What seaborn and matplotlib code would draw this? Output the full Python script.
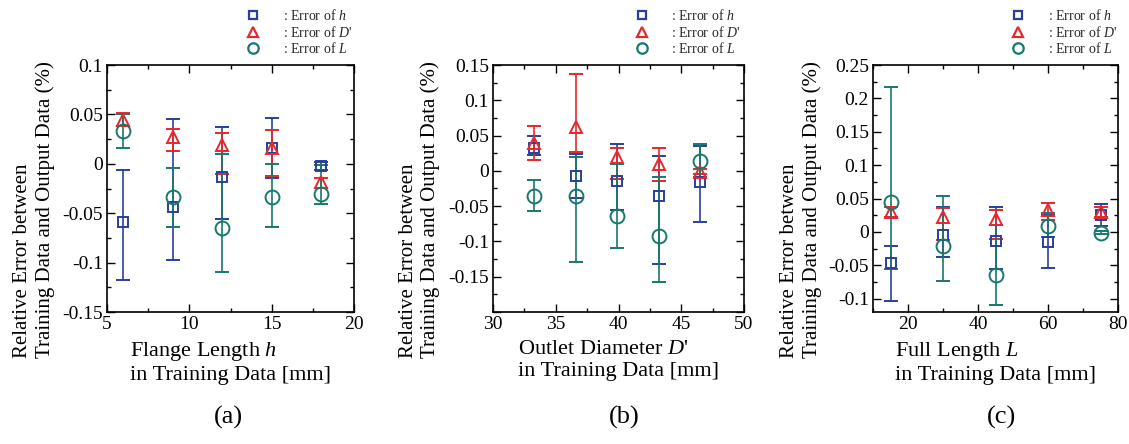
import matplotlib
matplotlib.use("Agg")
import matplotlib.pyplot as plt
import seaborn as sns
import numpy as np
from matplotlib.lines import Line2D
from matplotlib.ticker import MultipleLocator, FuncFormatter

# ---------------- data ----------------
# (a) Flange length h
xa = [6, 9, 12, 15, 18]
a_h = [-0.059, -0.044, -0.013, 0.016, -0.002]
a_h_lo = [-0.118, -0.097, -0.056, -0.014, -0.006]
a_h_hi = [-0.006, 0.045, 0.037, 0.046, 0.002]
a_D = [0.044, 0.027, 0.019, 0.016, -0.018]
a_D_lo = [0.038, 0.013, -0.010, -0.012, -0.024]
a_D_hi = [0.051, 0.035, 0.031, 0.034, -0.014]
a_L = [0.033, -0.034, -0.065, -0.034, -0.031]
a_L_lo = [0.016, -0.064, -0.110, -0.064, -0.041]
a_L_hi = [0.050, -0.004, 0.010, 0.000, -0.001]

# (b) Outlet diameter D'
xb = [33.3, 36.6, 39.9, 43.2, 46.5]
b_h = [0.033, -0.007, -0.014, -0.036, -0.016]
b_h_lo = [0.022, -0.038, -0.056, -0.132, -0.072]
b_h_hi = [0.050, 0.024, 0.038, 0.021, 0.035]
b_D = [0.040, 0.062, 0.020, 0.010, -0.001]
b_D_lo = [0.016, 0.027, -0.011, -0.015, -0.004]
b_D_hi = [0.063, 0.137, 0.032, 0.033, 0.003]
b_L = [-0.035, -0.036, -0.064, -0.093, 0.014]
b_L_lo = [-0.057, -0.129, -0.110, -0.157, -0.009]
b_L_hi = [-0.013, 0.020, 0.010, -0.009, 0.038]

# (c) Full length L
xc = [15, 30, 45, 60, 75]
c_h = [-0.046, -0.004, -0.014, -0.015, 0.025]
c_h_lo = [-0.104, -0.038, -0.055, -0.054, 0.009]
c_h_hi = [-0.021, 0.037, 0.037, 0.025, 0.042]
c_D = [0.030, 0.022, 0.020, 0.033, 0.030]
c_D_lo = [0.023, -0.012, -0.010, 0.018, 0.023]
c_D_hi = [0.037, 0.036, 0.033, 0.043, 0.038]
c_L = [0.045, -0.021, -0.065, 0.009, -0.001]
c_L_lo = [-0.055, -0.073, -0.110, -0.008, -0.003]
c_L_hi = [0.217, 0.054, 0.010, 0.028, 0.001]

series_labels = [": Error of $h$", ": Error of $D$'", ": Error of $L$"]
xlabels = ["Flange Length $h$\nin Training Data [mm]",
           "Outlet Diameter $D$'\nin Training Data [mm]",
           "Full Length $L$\nin Training Data [mm]"]
ylabel = "Relative Error between\nTraining Data and Output Data (%)"
captions = ["(a)", "(b)", "(c)"]

# ---------------- style ----------------
sns.set_theme(style="ticks")
plt.rcParams["font.family"] = ["Liberation Serif", "DejaVu Serif"]
plt.rcParams["mathtext.fontset"] = "custom"
plt.rcParams["mathtext.rm"] = "Liberation Serif"
plt.rcParams["mathtext.it"] = "Liberation Serif:italic"
plt.rcParams["axes.unicode_minus"] = False

C_H = "#2a3f9d"
C_D = "#e8262b"
C_L = "#17786c"

fig = plt.figure(figsize=(11.29, 4.44), dpi=100)

panels = [
    dict(x=xa, series=[(a_h, a_h_lo, a_h_hi), (a_D, a_D_lo, a_D_hi), (a_L, a_L_lo, a_L_hi)],
         rect=[107 / 1129, 1 - 312 / 444, 247 / 1129, 247 / 444],
         xlim=(5, 20), xmaj=5, xmin=2.5, ylim=(-0.15, 0.1), hide=[],
         cap_x=228),
    dict(x=xb, series=[(b_h, b_h_lo, b_h_hi), (b_D, b_D_lo, b_D_hi), (b_L, b_L_lo, b_L_hi)],
         rect=[493 / 1129, 1 - 312 / 444, 251 / 1129, 247 / 444],
         xlim=(30, 50), xmaj=5, xmin=2.5, ylim=(-0.2, 0.15), hide=[-0.2],
         cap_x=624),
    dict(x=xc, series=[(c_h, c_h_lo, c_h_hi), (c_D, c_D_lo, c_D_hi), (c_L, c_L_lo, c_L_hi)],
         rect=[873 / 1129, 1 - 312 / 444, 245 / 1129, 247 / 444],
         xlim=(10, 80), xmaj=20, xmin=10, ylim=(-0.12, 0.25), hide=[],
         cap_x=1002),
]

colors = [C_H, C_D, C_L]
markers = ["s", "^", "o"]
msizes = [7, 8.5, 10]
leg_sizes = [6, 7, 7.5]


def yfmt(hide):
    def f(v, pos):
        v = round(v, 4)
        for h in hide:
            if abs(v - h) < 1e-9:
                return ""
        if abs(v) < 1e-9:
            return "0"
        return ("%g" % v)
    return FuncFormatter(f)


for i, p in enumerate(panels):
    ax = fig.add_axes(p["rect"])
    for (vals, lo, hi), col, mk, ms in zip(p["series"], colors, markers, msizes):
        v = np.array(vals)
        yerr = np.vstack([v - np.array(lo), np.array(hi) - v])
        ax.errorbar(p["x"], v, yerr=yerr, fmt=mk, color=col, mfc="none",
                    mec=col, mew=1.4, ms=ms, elinewidth=1.2, capsize=5,
                    capthick=1.2, zorder=3)
    ax.set_xlim(*p["xlim"])
    ax.set_ylim(*p["ylim"])
    ax.xaxis.set_major_locator(MultipleLocator(p["xmaj"]))
    ax.xaxis.set_minor_locator(MultipleLocator(p["xmin"]))
    ax.yaxis.set_major_locator(MultipleLocator(0.05))
    ax.yaxis.set_minor_locator(MultipleLocator(0.025))
    ax.yaxis.set_major_formatter(yfmt(p["hide"]))
    ax.tick_params(which="both", direction="in", top=True, right=True,
                   colors="black", labelsize=14, width=1.0)
    ax.tick_params(which="major", length=6, pad=3)
    ax.tick_params(which="minor", length=3)
    for s in ax.spines.values():
        s.set_color("black")
        s.set_linewidth(1.2)
    ax.set_xlabel(xlabels[i], fontsize=16, multialignment="left", labelpad=5,
                  color="black")
    ax.set_ylabel(ylabel, fontsize=15, color="black", multialignment="left")
    ax.yaxis.set_label_coords(-0.21, 0.415)

    handles = [Line2D([], [], ls="none", marker=m, color=c, mfc="none", mec=c,
                      mew=1.6, ms=s) for m, c, s in zip(markers, colors, leg_sizes)]
    ax.legend(handles, series_labels, loc="lower left",
              bbox_to_anchor=(0.565, 1.035), frameon=False, fontsize=10,
              handlelength=1.0, handletextpad=1.6, labelspacing=0.12,
              borderpad=0.0, borderaxespad=0.0)

    fig.text(p["cap_x"] / 1129, 1 - 417 / 444, captions[i], ha="center",
             va="center", fontsize=19, color="black")

fig.savefig("out.png", dpi=100)
